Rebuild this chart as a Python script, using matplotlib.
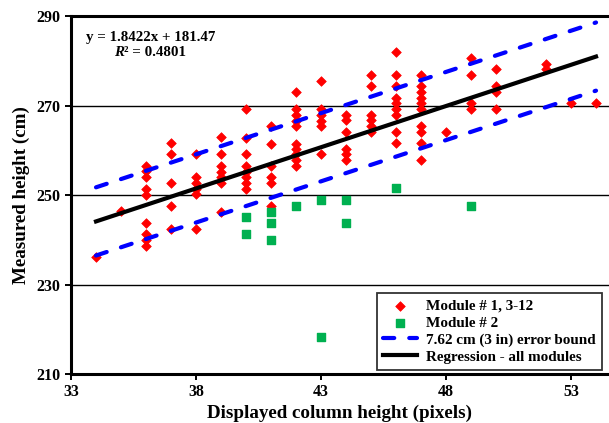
import matplotlib
matplotlib.use("Agg")
import matplotlib.pyplot as plt
import numpy as np

plt.rcParams['font.family'] = ['Liberation Serif', 'DejaVu Serif']
plt.rcParams['font.weight'] = 'bold'

# Module # 1, 3-12 (red diamonds)
red_x = ([34] + [35] + [36]*9 + [37]*5 + [38]*6 + [39]*7 + [40]*8 + [41]*6 +
         [42]*10 + [43]*6 + [44]*6 + [45]*6 + [46]*9 + [47]*10 + [48] +
         [49]*4 + [50]*4 + [52]*2 + [53] + [54])
red_y = ([236.1] + [246.4] +
         [256.6, 255.3, 254.0, 251.4, 250.1, 243.8, 241.2, 239.9, 238.6] +
         [261.7, 259.1, 252.8, 247.6, 242.5] +
         [259.1, 254.0, 252.7, 251.4, 250.3, 242.5] +
         [262.9, 259.1, 256.4, 255.2, 254.0, 252.6, 246.3] +
         [269.2, 262.8, 259.1, 256.4, 255.2, 254.0, 252.6, 251.4] +
         [265.4, 261.5, 256.4, 254.0, 252.6, 247.6] +
         [273.0, 269.2, 267.9, 266.6, 265.4, 261.5, 260.3, 259.1, 257.8, 256.4] +
         [275.6, 269.2, 267.9, 266.6, 265.4, 259.1] +
         [268.0, 266.7, 264.2, 260.4, 259.1, 257.8] +
         [276.9, 274.3, 268.0, 266.7, 265.4, 264.2] +
         [282.0, 276.9, 274.3, 271.8, 270.5, 269.2, 268.0, 264.2, 261.6] +
         [276.9, 274.3, 273.0, 271.8, 270.5, 269.2, 265.4, 264.2, 261.6, 257.8] +
         [264.2] +
         [280.7, 276.9, 270.5, 269.2] +
         [278.1, 274.3, 273.0, 269.2] +
         [279.4, 278.1] +
         [270.5] + [270.5])

# Module # 2 (green squares)
green_x = [40, 40, 41, 41, 41, 42, 43, 43, 44, 44, 46, 49]
green_y = [245.1, 241.2, 246.3, 243.8, 239.9, 247.6, 248.8, 218.3, 248.8, 243.8, 251.5, 247.6]

slope = 1.8422
intercept = 181.47
bound = 7.62
line_x = np.array([34, 54])

x_ticks = [33, 38, 43, 48, 53]
y_ticks = [210, 230, 250, 270, 290]

fig = plt.figure(figsize=(6.09, 4.23), dpi=100)
ax = fig.add_axes([0.1166, 0.1158, 0.8826, 0.8462])

for gy in [230, 250, 270]:
    ax.axhline(gy, color='black', lw=1.0, zorder=1)
ax.axhline(290, color='black', lw=2.2, zorder=1, clip_on=False)

ax.scatter(red_x, red_y, marker='D', s=24, color='#ff0000', edgecolors='#ff0000',
           lw=0.5, zorder=3, label='Module # 1, 3-12')
ax.scatter(green_x, green_y, marker='s', s=28, color='#00b050', zorder=3,
           label='Module # 2')
ax.plot(line_x, slope * line_x + intercept + bound, color='#0000ff', lw=3,
        dashes=(2.7, 3.6), dash_capstyle='round', zorder=4,
        label='7.62 cm (3 in) error bound')
ax.plot(line_x, slope * line_x + intercept - bound, color='#0000ff', lw=3,
        dashes=(2.7, 3.6), dash_capstyle='round', zorder=4)
ax.plot(line_x, slope * line_x + intercept, color='black', lw=3, zorder=4,
        label='Regression - all modules')

ax.set_xlim(33, 54.5)
ax.set_ylim(210, 290)
ax.set_xticks(x_ticks)
ax.set_yticks(y_ticks)
ax.tick_params(axis='both', direction='out', length=4.5, width=1.4, labelsize=11.5, pad=3)
for lab in ax.get_xticklabels() + ax.get_yticklabels():
    lab.set_fontweight('bold')

ax.spines['right'].set_visible(False)
ax.spines['top'].set_visible(False)
ax.spines['left'].set_linewidth(2.2)
ax.spines['bottom'].set_linewidth(2.2)

ax.set_xlabel('Displayed column height (pixels)', fontsize=13.7, fontweight='bold', labelpad=3)
ax.set_ylabel('Measured height (cm)', fontsize=13.7, fontweight='bold', labelpad=5)

ax.text(0.028, 0.941, 'y = 1.8422x + 181.47', transform=ax.transAxes, fontsize=10.8,
        fontweight='bold', va='center', ha='left')
t_r = ax.text(0.080, 0.899, 'R', transform=ax.transAxes, fontsize=10.8,
              fontweight='bold', style='italic', va='center', ha='left')
ax.annotate('\u00b2 = 0.4801', xy=(1, 0.5), xycoords=t_r, fontsize=10.8,
            fontweight='bold', va='center', ha='left')

leg = ax.legend(loc='lower right', bbox_to_anchor=(0.988, 0.012), frameon=True,
                fancybox=False, edgecolor='black', fontsize=10.9, handlelength=2.2,
                borderpad=0.4, labelspacing=0.22, handletextpad=0.65,
                borderaxespad=0.0)
leg.get_frame().set_linewidth(1.3)
for t in leg.get_texts():
    t.set_fontweight('bold')

fig.savefig('out.png', dpi=100)
